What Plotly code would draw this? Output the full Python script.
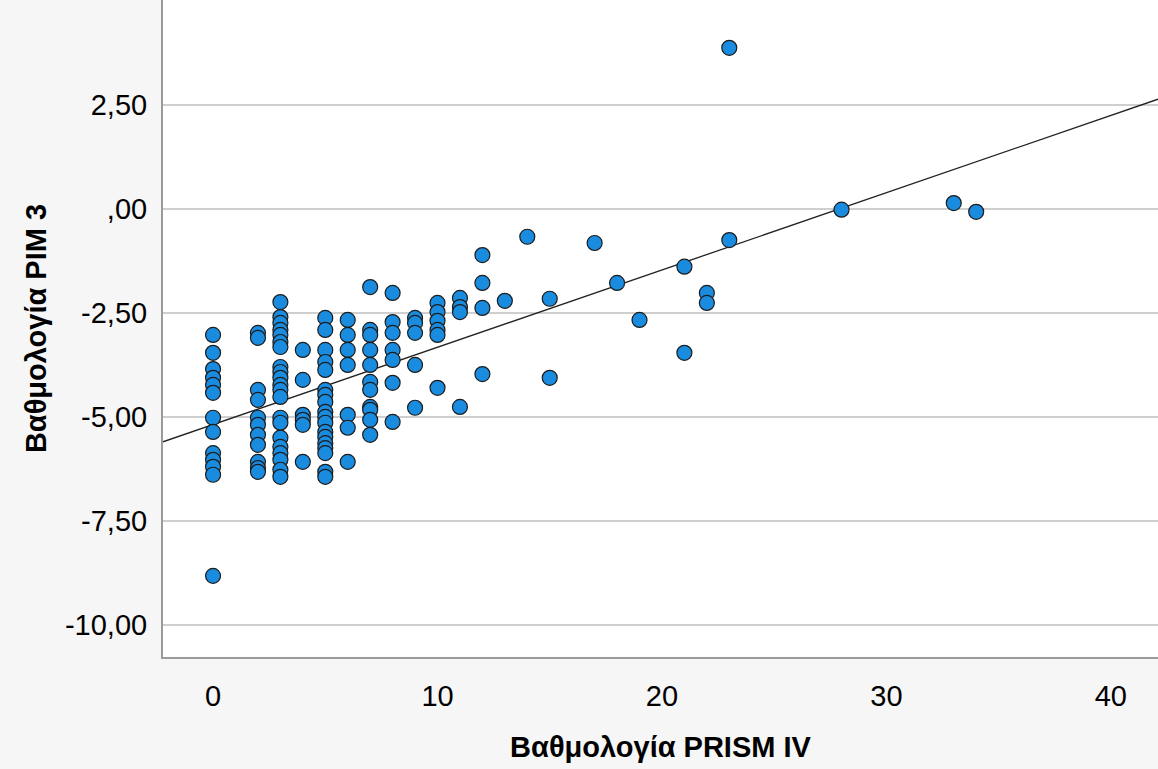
import numpy as np
import plotly.graph_objects as go

# PRISM IV score (x) and PIM 3 score (y), one entry per patient
prism = ([0] * 13 + [2] * 11 + [3] * 21 + [4] * 6 + [5] * 18 + [6] * 7 + [7] * 11
         + [8] * 7 + [9] * 5 + [10] * 6 + [11] * 4 + [12] * 4
         + [13, 14, 15, 15, 17, 18, 19, 21, 21, 22, 22, 23, 23, 28, 33, 34])
pim = [
    # x = 0
    -3.03, -3.46, -3.85, -4.06, -4.23, -4.42, -5.02, -5.36, -5.87, -6.03, -6.20, -6.39, -8.82,
    # x = 2
    -2.98, -3.10, -4.35, -4.59, -5.02, -5.19, -5.43, -5.67, -6.08, -6.23, -6.32,
    # x = 3
    -2.24, -2.60, -2.74, -2.91, -3.03, -3.20, -3.32, -3.80, -3.92, -4.06, -4.23, -4.35, -4.52,
    -5.02, -5.14, -5.50, -5.72, -5.87, -6.03, -6.27, -6.44,
    # x = 4
    -3.39, -4.11, -4.95, -5.07, -5.19, -6.08,
    # x = 5
    -2.62, -2.91, -3.39, -3.68, -3.87, -4.35, -4.47, -4.64, -4.88, -5.00, -5.14, -5.36, -5.48,
    -5.63, -5.75, -5.87, -6.32, -6.44,
    # x = 6
    -2.67, -3.03, -3.39, -3.75, -4.95, -5.26, -6.08,
    # x = 7
    -1.88, -2.91, -3.03, -3.39, -3.75, -4.16, -4.35, -4.76, -4.83, -5.07, -5.43,
    # x = 8
    -2.02, -2.72, -2.98, -3.39, -3.63, -4.18, -5.12,
    # x = 9
    -2.62, -2.74, -2.98, -3.75, -4.78,
    # x = 10
    -2.26, -2.48, -2.69, -2.91, -3.03, -4.30,
    # x = 11
    -2.14, -2.36, -2.48, -4.76,
    # x = 12
    -1.11, -1.78, -2.38, -3.97,
    # x = 13 .. 34
    -2.21, -0.67, -2.16, -4.06, -0.82, -1.78, -2.67, -1.39, -3.46, -2.02, -2.26, 3.87, -0.75,
    -0.02, 0.14, -0.07,
]

x_ticks = [0, 10, 20, 30, 40]
y_ticks = [-10, -7.5, -5, -2.5, 0, 2.5]
y_tick_labels = ["-10,00", "-7,50", "-5,00", "-2,50", ",00", "2,50"]

x_range = [-2.23, 42.1]
y_range = [-10.77, 5.02]

slope, intercept = np.polyfit(prism, pim, 1)
line_x = np.array(x_range)
line_y = intercept + slope * line_x

fig = go.Figure()
fig.add_trace(go.Scatter(
    x=line_x, y=line_y, mode="lines",
    line=dict(color="#222222", width=1.3), hoverinfo="skip", showlegend=False,
))
fig.add_trace(go.Scatter(
    x=prism, y=pim, mode="markers",
    marker=dict(size=15, color="#1a8ce0", line=dict(color="#1c1c1c", width=1.2)),
    showlegend=False,
))

font_family = "Liberation Sans, Arial, sans-serif"
fig.update_layout(
    width=1158, height=769,
    margin=dict(l=163, r=0, t=0, b=112),
    paper_bgcolor="#f6f6f6", plot_bgcolor="#ffffff",
    font=dict(family=font_family, color="#000000"),
    xaxis=dict(
        range=x_range, tickvals=x_ticks, showgrid=False, zeroline=False,
        showline=True, linecolor="#9a9a9a", linewidth=2,
        tickfont=dict(size=29, color="#000000"), ticks="", ticklabelstandoff=12,
        title=dict(text="<b>Βαθμολογία PRISM IV</b>", font=dict(size=29), standoff=26),
    ),
    yaxis=dict(
        range=y_range, tickvals=y_ticks, ticktext=y_tick_labels,
        showgrid=True, gridcolor="#cfcfcf", gridwidth=1.5, zeroline=False,
        showline=True, linecolor="#9a9a9a", linewidth=2,
        tickfont=dict(size=29, color="#000000"), ticks="", ticklabelstandoff=8,
        title=dict(text="<b>Βαθμολογία PIM 3</b>", font=dict(size=29), standoff=10),
    ),
)

fig.write_html("out.html")
